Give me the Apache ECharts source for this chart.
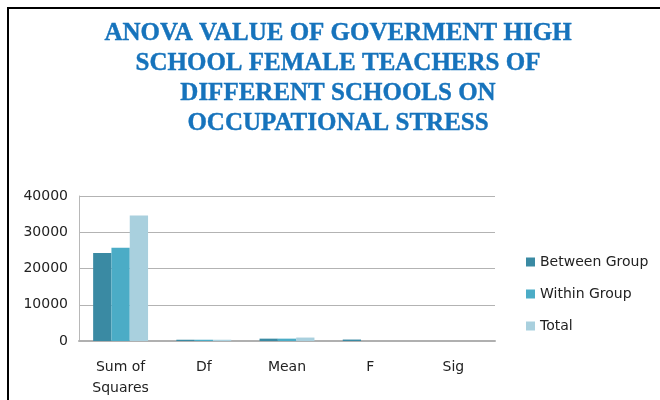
<!DOCTYPE html>
<html>
<head>
<meta charset="utf-8">
<script src="https://cdn.jsdelivr.net/npm/echarts@6/dist/echarts.min.js"></script>
<style>
html,body{margin:0;padding:0;background:#fff;}
#chart{width:660px;height:400px;}
</style>
</head>
<body>
<div id="chart"></div>
<script>
const titleText = "ANOVA VALUE OF GOVERMENT HIGH\nSCHOOL FEMALE TEACHERS OF\nDIFFERENT SCHOOLS ON\nOCCUPATIONAL STRESS";
const categories = ["Sum of\nSquares", "Df", "Mean", "F", "Sig"];
const seriesNames = ["Between Group", "Within Group", "Total"];
const betweenGroup = [24300, 350, 650, 400, 0];
const withinGroup = [25700, 350, 650, 0, 0];
const total = [34600, 350, 950, 0, 0];
const yTicks = { min: 0, max: 40000, interval: 10000 };
const colors = ["#3a8aa3", "#4bacc6", "#a9d0de"];

const chart = echarts.init(document.getElementById('chart'));
const font = "DejaVu Sans";
chart.setOption({
  animation: false,
  color: colors,
  title: {
    text: titleText,
    left: 333,
    textAlign: 'center',
    top: 14,
    textStyle: {
      fontFamily: "Liberation Serif",
      fontWeight: 'bold',
      fontSize: 25,
      lineHeight: 30,
      color: "#1673bc",
      textBorderColor: "#1673bc",
      textBorderWidth: 0.4
    }
  },
  legend: {
    orient: 'vertical',
    left: 521,
    top: 250,
    itemWidth: 9,
    itemHeight: 9,
    itemGap: 18,
    icon: 'rect',
    data: seriesNames,
    textStyle: { fontFamily: font, fontSize: 14, color: "#222" }
  },
  grid: { left: 79, right: 165, top: 196, bottom: 59, containLabel: false },
  xAxis: {
    type: 'category',
    data: categories,
    axisLine: { show: true, lineStyle: { color: "#b0b0b0", width: 2 } },
    axisTick: { show: false },
    axisLabel: { fontFamily: font, fontSize: 14, color: "#222", margin: 16, lineHeight: 21 }
  },
  yAxis: {
    type: 'value',
    min: yTicks.min, max: yTicks.max, interval: yTicks.interval,
    axisLine: { show: true, lineStyle: { color: "#b8b8b8", width: 1 } },
    axisTick: { show: false },
    splitLine: { lineStyle: { color: "#b3b3b3", width: 1 } },
    axisLabel: { fontFamily: font, fontSize: 14, color: "#222", margin: 11, formatter: function (v) { return String(v); } }
  },
  series: [
    { name: seriesNames[0], type: 'bar', data: betweenGroup, barGap: '0%', barCategoryGap: '34%' },
    { name: seriesNames[1], type: 'bar', data: withinGroup, barGap: '0%', barCategoryGap: '34%' },
    { name: seriesNames[2], type: 'bar', data: total, barGap: '0%', barCategoryGap: '34%' }
  ],
  graphic: [
    { type: 'polyline', shape: { points: [[8, 400], [8, 8], [660, 8]] }, style: { stroke: '#000', lineWidth: 2, fill: null } }
  ]
});
</script>
</body>
</html>
